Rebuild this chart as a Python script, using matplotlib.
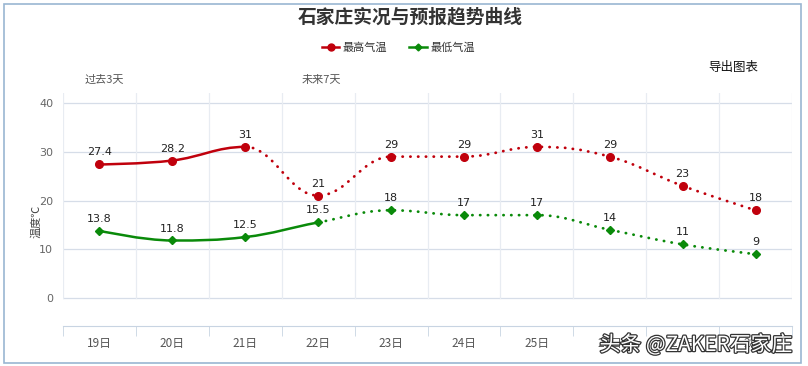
import matplotlib.pyplot as plt
import matplotlib.patheffects as pe
from matplotlib.path import Path
from matplotlib.patches import PathPatch, Rectangle
from matplotlib.lines import Line2D

plt.rcParams['font.family'] = ['Noto Sans CJK SC', 'DejaVu Sans']

# data
days = ["19日", "20日", "21日", "22日", "23日", "24日", "25日", "26日", "27日", "28日"]
high = [27.4, 28.2, 31, 21, 29, 29, 31, 29, 23, 18]
low = [13.8, 11.8, 12.5, 15.5, 18, 17, 17, 14, 11, 9]
high_past = 3   # first points drawn solid
low_past = 4
yticks = [0, 10, 20, 30, 40]

red = "#c0000c"
green = "#0a8a0a"


def spline_ctrl(xs, ys, smoothing=1.5):
    # highcharts-like spline control points
    n = len(xs)
    left = [(xs[i], ys[i]) for i in range(n)]
    right = [(xs[i], ys[i]) for i in range(n)]
    d = smoothing + 1
    for i in range(1, n - 1):
        x, y = xs[i], ys[i]
        lx = (smoothing * x + xs[i - 1]) / d
        ly = (smoothing * y + ys[i - 1]) / d
        rx = (smoothing * x + xs[i + 1]) / d
        ry = (smoothing * y + ys[i + 1]) / d
        if rx != lx:
            corr = (ry - ly) * (rx - x) / (rx - lx) + y - ry
            ly += corr
            ry += corr
        py, ny = ys[i - 1], ys[i + 1]
        if ly > py and ly > y:
            ly = max(py, y); ry = 2 * y - ly
        elif ly < py and ly < y:
            ly = min(py, y); ry = 2 * y - ly
        if ry > ny and ry > y:
            ry = max(ny, y); ly = 2 * y - ry
        elif ry < ny and ry < y:
            ry = min(ny, y); ly = 2 * y - ry
        left[i] = (lx, ly)
        right[i] = (rx, ry)
    return left, right


def spline_path(xs, ys, i0, i1):
    left, right = spline_ctrl(xs, ys)
    verts = [(xs[i0], ys[i0])]
    codes = [Path.MOVETO]
    for i in range(i0 + 1, i1 + 1):
        verts += [right[i - 1], left[i], (xs[i], ys[i])]
        codes += [Path.CURVE4] * 3
    return Path(verts, codes)


fig = plt.figure(figsize=(8.08, 3.66), dpi=100)
ax = fig.add_axes([63 / 808, 1 - 326 / 366, 729 / 808, 233 / 366])
ax.set_xlim(-0.5, len(days) - 0.5)
ax.set_ylim(-5.74, 42.05)

x = list(range(len(days)))

# grid
for yv in yticks:
    ax.axhline(yv, color="#d6dde8", lw=0.9, zorder=1)
for k in range(len(days) + 1):
    ax.plot([k - 0.5, k - 0.5], [0, 42.05], color="#e8ecf2", lw=0.9, zorder=1)

for vals, col, npast, mk, ms in [(high, red, high_past, "o", 5.5), (low, green, low_past, "D", 3.6)]:
    solid = spline_path(x, vals, 0, npast - 1)
    dotted = spline_path(x, vals, npast - 1, len(vals) - 1)
    ax.add_patch(PathPatch(solid, fill=False, edgecolor=col, lw=1.8, zorder=3))
    ax.add_patch(PathPatch(dotted, fill=False, edgecolor=col, lw=2.0,
                           linestyle=(0, (0.1, 2.7)), capstyle="round", zorder=3))
    ax.plot(x, vals, linestyle="none", marker=mk, color=col, ms=ms, zorder=4)
    for xi, v in zip(x, vals):
        ax.annotate(f"{v:g}", (xi, v), xytext=(0, 5), textcoords="offset points",
                    ha="center", va="bottom", fontsize=8, color="#222222",
                    family=["DejaVu Sans"], zorder=5)

ax.set_yticks(yticks)
ax.set_yticklabels([str(v) for v in yticks], family=["DejaVu Sans"])
ax.set_xticks(x)
ax.set_xticklabels(days)
ax.set_xticks([k - 0.5 for k in range(len(days) + 1)], minor=True)
ax.tick_params(axis="x", which="major", length=0, pad=8, labelsize=8.5, labelcolor="#555555")
ax.tick_params(axis="x", which="minor", length=7, color="#c8d4e2", direction="out")
ax.tick_params(axis="y", length=0, pad=7, labelsize=8, labelcolor="#666666")
for s in ["top", "right", "left"]:
    ax.spines[s].set_visible(False)
ax.spines["bottom"].set_color("#c8d4e2")
ax.set_ylabel("温度℃", fontsize=8, color="#444444")
ax.yaxis.set_label_coords(-0.029, 0.45)

ax.text(0.07, 1.035, "过去3天", transform=ax.get_xaxis_transform(), ha="center", va="bottom",
        fontsize=8, color="#555555")
ax.text(3.05, 1.035, "未来7天", transform=ax.get_xaxis_transform(), ha="center", va="bottom",
        fontsize=8, color="#555555")

fig.text(0.508, 1 - 17 / 366, "石家庄实况与预报趋势曲线", ha="center", va="center",
         fontsize=13.5, fontweight="bold", color="#333333")
fig.text(733 / 808, 1 - 67 / 366, "导出图表", ha="center", va="center", fontsize=9, color="#111111")

handles = [Line2D([], [], color=red, marker="o", ms=5, lw=1.8),
           Line2D([], [], color=green, marker="D", ms=3.5, lw=1.8)]
fig.legend(handles, ["最高气温", "最低气温"], loc="center", bbox_to_anchor=(0.493, 1 - 48 / 366),
           ncol=2, frameon=False, fontsize=8, handlelength=1.6, handletextpad=0.3,
           columnspacing=2.0, labelcolor="#333333")

fig.text(696 / 808, 1 - 345 / 366, "头条 @ZAKER石家庄", ha="center", va="center", fontsize=15,
         color="white", path_effects=[pe.withStroke(linewidth=1.8, foreground="#333333")])

fig.patches.append(Rectangle((4 / 808, 3 / 366), 797 / 808, 359 / 366, transform=fig.transFigure,
                             fill=False, edgecolor="#9ab6d2", lw=1.2))

fig.savefig("out.png", dpi=100)
